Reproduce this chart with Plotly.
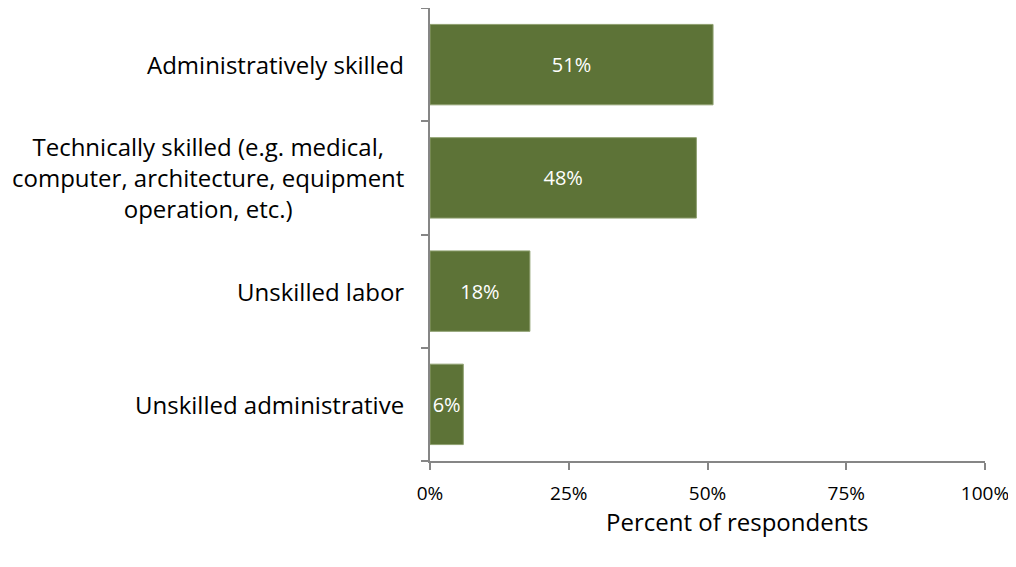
import plotly.graph_objects as go

categories = [
    "Administratively skilled",
    "Technically skilled (e.g. medical,<br>computer, architecture, equipment<br>operation, etc.)",
    "Unskilled labor",
    "Unskilled administrative",
]
values = [51, 48, 18, 6]
value_labels = ["51%", "48%", "18%", "6%"]
x_tickvals = [0, 25, 50, 75, 100]
x_ticktext = ["0%", "25%", "50%", "75%", "100%"]
axis_title = "Percent of respondents"

FONT = "Open Sans"
AXIS_COLOR = "#868686"
BAR_COLOR = "#5D7337"

fig = go.Figure()
fig.add_trace(go.Bar(
    y=categories,
    x=values,
    orientation="h",
    marker=dict(color=BAR_COLOR, line=dict(color="#8FA070", width=1)),
    text=value_labels,
    textposition="inside",
    insidetextanchor="middle",
    textangle=0,
    constraintext="none",
    textfont=dict(color="white", size=20, family=FONT),
    width=0.71,
    hoverinfo="skip",
))

for c in categories:
    fig.add_annotation(
        x=0, y=c, xref="paper", yref="y",
        text=c, showarrow=False,
        xanchor="right", yanchor="middle", align="center",
        xshift=-24,
        font=dict(size=24, family=FONT, color="#000000"),
    )

fig.add_annotation(
    x=0.553, y=-0.1325, xref="paper", yref="paper",
    text=axis_title, showarrow=False,
    xanchor="center", yanchor="middle",
    font=dict(size=24, family=FONT, color="#000000"),
)

fig.update_layout(
    width=1008, height=559,
    margin=dict(l=422, r=31, t=0, b=106),
    paper_bgcolor="white", plot_bgcolor="white",
    showlegend=False,
    font=dict(family=FONT, color="#000000"),
    uniformtext=dict(mode=False),
)
fig.update_xaxes(
    range=[0, 100],
    tickvals=x_tickvals, ticktext=x_ticktext,
    showgrid=False, zeroline=False,
    showline=True, linecolor=AXIS_COLOR, linewidth=1.5,
    ticks="outside", ticklen=7, tickcolor=AXIS_COLOR, tickwidth=1.5,
    tickfont=dict(size=19, family=FONT, color="#000000"),
    ticklabelstandoff=7,
)
fig.update_yaxes(
    categoryorder="array", categoryarray=categories[::-1],
    showgrid=False, zeroline=False,
    showline=True, linecolor=AXIS_COLOR, linewidth=1.5,
    ticks="outside", ticklen=7, tickcolor=AXIS_COLOR, tickwidth=1.5,
    tickson="boundaries",
    showticklabels=False,
)

fig.write_html("out.html")
